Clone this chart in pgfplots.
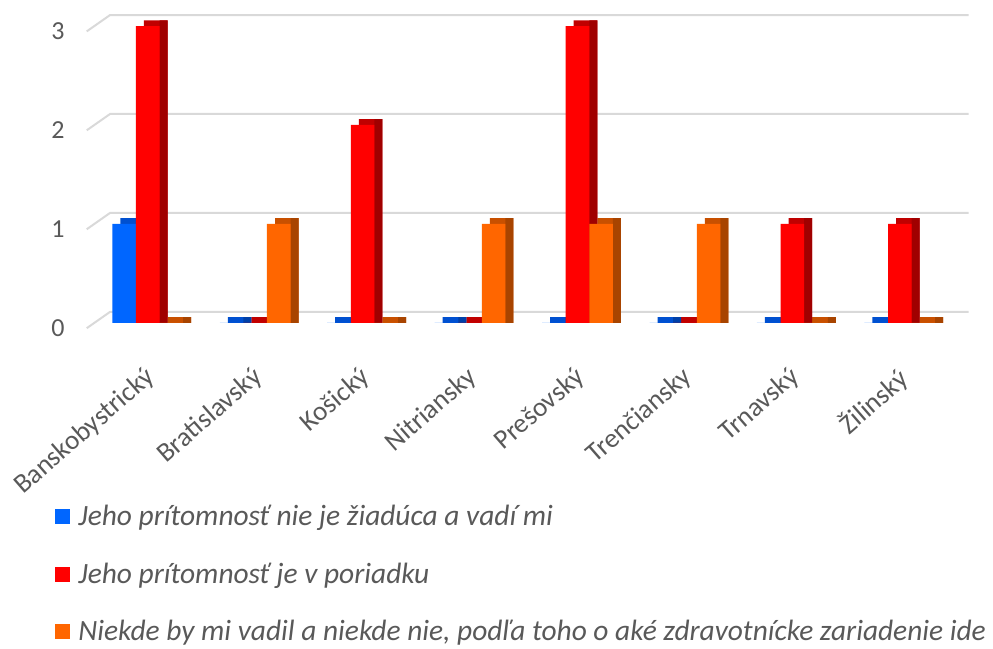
\documentclass[border=0pt]{standalone}
\usepackage{pgfplots}
\usepackage{pgfplotstable}
\pgfplotsset{compat=1.18}
\usepackage{fontspec}
\setmainfont{Carlito}
\definecolor{txt}{HTML}{595959}
\definecolor{gridc}{HTML}{D9D9D9}
\definecolor{bF}{HTML}{0066FF}\definecolor{bT}{HTML}{0050D0}\definecolor{bS}{HTML}{0040A8}
\definecolor{rF}{HTML}{FF0000}\definecolor{rT}{HTML}{C00000}\definecolor{rS}{HTML}{A00000}
\definecolor{oF}{HTML}{FF6600}\definecolor{oT}{HTML}{C85000}\definecolor{oS}{HTML}{A84400}
% category index, blue, red, orange
\pgfplotstableread{
x b r o
0 1 3 0
1 0 0 1
2 0 2 0
3 0 0 1
4 0 3 1
5 0 0 1
6 0 1 0
7 0 1 0
}\data
\begin{document}
\begin{tikzpicture}
\begin{axis}[
  scale only axis, width=440.77pt, height=167.65pt,
  xmin=-0.568, xmax=7.64, ymin=-0.13, ymax=3.26,
  clip=false,
  axis line style={draw=none},
  major tick length=0pt,
  xtick={0,...,7},
  xticklabels={Banskobystrický,Bratislavský,Košický,Nitriansky,Prešovský,Trenčiansky,Trnavský,Žilinský},
  xticklabel style={rotate=41, anchor=north east, font=\fontsize{13.6}{15}\selectfont, text=txt, inner sep=0pt, xshift=-11pt, yshift=-9.5pt},
  ytick={0,1,2,3},
  yticklabel style={anchor=east, inner sep=0pt, xshift=-10.85pt, yshift=-2.5pt, font=\fontsize{13}{15}\selectfont, text=txt},
  /pgf/number format/assume math mode=true,
  legend cell align=left,
  legend style={at={(0,0)}, anchor=north west, xshift=-15.85pt, yshift=-84.5pt, draw=none, fill=none,
    font=\fontsize{14.7}{17}\itshape, text=txt, row sep=17pt, column sep=4pt, inner sep=0pt,
    nodes={inner sep=0pt}},
  legend image code/.code={\fill[#1] (0pt,-3.75pt) rectangle (7.5pt,3.75pt);},
]
% back-wall gridlines with the diagonal to the front
\addplot[gridc, line width=1pt, forget plot] coordinates {(-0.568,-0.054) (-0.351,0.111) (7.64,0.111)};
\addplot[gridc, line width=1pt, forget plot] coordinates {(-0.568,0.946) (-0.351,1.111) (7.64,1.111)};
\addplot[gridc, line width=1pt, forget plot] coordinates {(-0.568,1.946) (-0.351,2.111) (7.64,2.111)};
\addplot[gridc, line width=1pt, forget plot] coordinates {(-0.568,2.946) (-0.351,3.111) (7.64,3.111)};
% top faces (depth)
\addplot[ybar, bar width=11.8pt, bar shift=-7.8pt, fill=bT, draw=none, forget plot] table[x=x, y expr=\thisrow{b}+0.058] {\data};
\addplot[ybar, bar width=11.8pt, bar shift=4pt, fill=rT, draw=none, forget plot] table[x=x, y expr=\thisrow{r}+0.058] {\data};
\addplot[ybar, bar width=11.8pt, bar shift=15.8pt, fill=oT, draw=none, forget plot] table[x=x, y expr=\thisrow{o}+0.058] {\data};
% side faces
\addplot[ybar, bar width=4pt, bar shift=-3.9pt, fill=bS, draw=none, forget plot] table[x=x, y expr=\thisrow{b}+0.058] {\data};
\addplot[ybar, bar width=4pt, bar shift=7.9pt, fill=rS, draw=none, forget plot] table[x=x, y expr=\thisrow{r}+0.058] {\data};
\addplot[ybar, bar width=4pt, bar shift=19.7pt, fill=oS, draw=none, forget plot] table[x=x, y expr=\thisrow{o}+0.058] {\data};
% front faces
\addplot[ybar, bar width=11.8pt, bar shift=-11.8pt, fill=bF, draw=none] table[x=x, y=b] {\data};
\addplot[ybar, bar width=11.8pt, bar shift=0pt, fill=rF, draw=none] table[x=x, y=r] {\data};
\addplot[ybar, bar width=11.8pt, bar shift=11.8pt, fill=oF, draw=none] table[x=x, y=o] {\data};
\legend{Jeho prítomnosť nie je žiadúca a vadí mi, Jeho prítomnosť je v poriadku, {Niekde by mi vadil a niekde nie, podľa toho o aké zdravotnícke zariadenie ide}}
\end{axis}
\pgfresetboundingbox
\path ([shift={(-43.35pt,-156.2pt)}]current axis.south west) rectangle ([shift={(12.2pt,0.15pt)}]current axis.north east);
\end{tikzpicture}
\end{document}
